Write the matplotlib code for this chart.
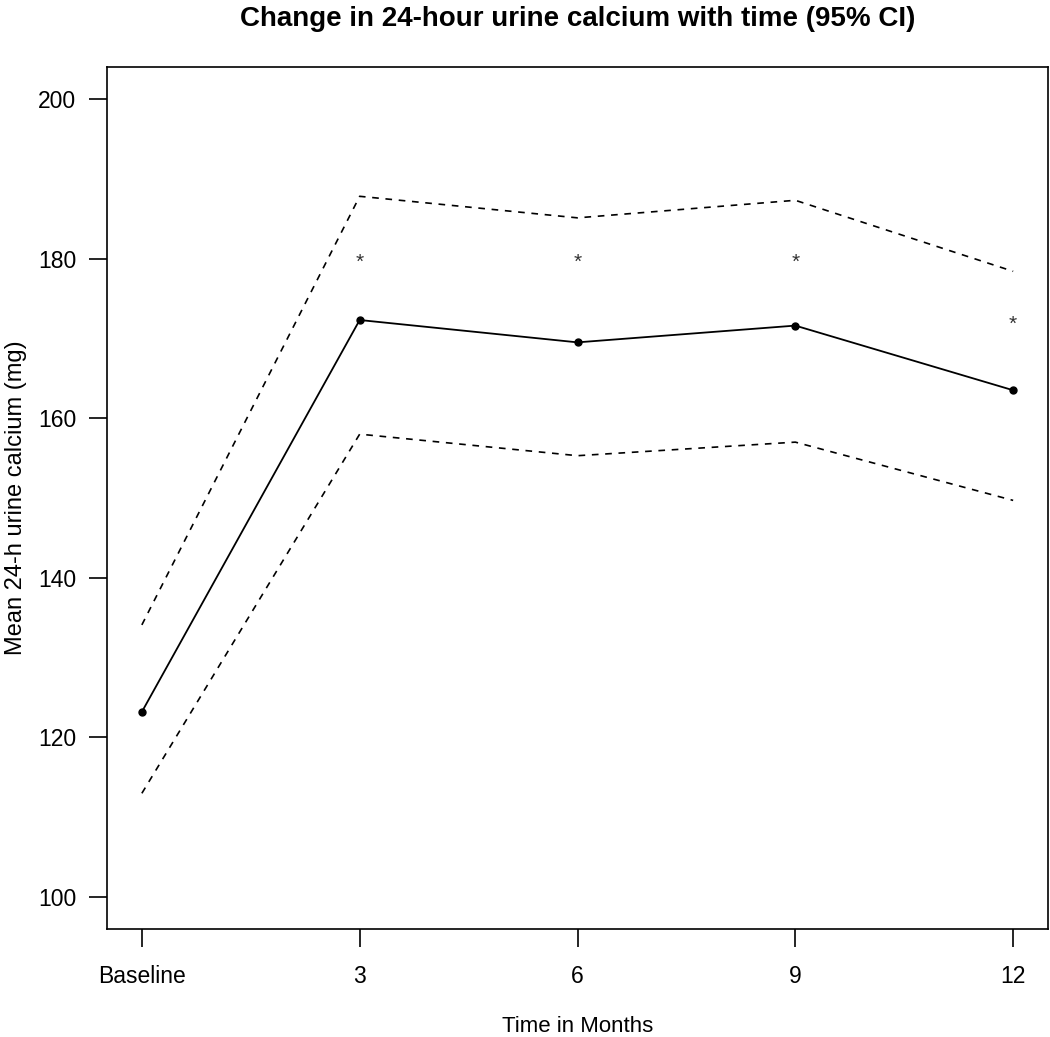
import matplotlib
matplotlib.use("Agg")
import matplotlib.pyplot as plt

plt.rcParams['font.family'] = ['Liberation Sans', 'DejaVu Sans']

categories = ["Baseline", "3", "6", "9", "12"]
mean_vals = [123.2, 172.3, 169.5, 171.6, 163.5]
upper_ci = [134.1, 187.8, 185.1, 187.3, 178.4]
lower_ci = [113.0, 158.0, 155.3, 157.0, 149.7]
star_y = [179.5, 179.5, 179.5, 171.7]
star_x = [2, 3, 4, 5]
yticks = [100, 120, 140, 160, 180, 200]

x = list(range(1, len(categories) + 1))

W, H = 1050, 1037
fig = plt.figure(figsize=(W/100, H/100), dpi=100)
ax = fig.add_axes([107/W, 1 - 929/H, (1048-107)/W, (929-67)/H])

ax.plot(x, mean_vals, color='black', lw=1.3, marker='o', markersize=5)
ax.plot(x, upper_ci, color='black', lw=1.2, ls=(0, (4, 4)))
ax.plot(x, lower_ci, color='black', lw=1.2, ls=(0, (4, 4)))
for sx, sy in zip(star_x, star_y):
    ax.text(sx, sy, "*", ha='center', va='center', fontsize=15, color='#333333')

ax.set_xlim(0.84, 5.16)
ax.set_ylim(96, 204)
ax.set_xticks(x)
ax.set_xticklabels(categories)
ax.set_yticks(yticks)
ax.tick_params(axis='both', labelsize=16.5, length=13, width=1.2, color='black')
ax.tick_params(axis='x', pad=13)
ax.tick_params(axis='y', pad=9)
for s in ax.spines.values():
    s.set_linewidth(1.2)

fig.text((107 + 1048) / 2 / W, 1 - 19/H,
         "Change in 24-hour urine calcium with time (95% CI)", fontsize=20,
         fontweight='bold', ha='center', va='center')
fig.text((107 + 1048) / 2 / W, 1 - 1026/H, "Time in Months", fontsize=16,
         ha='center', va='center')
ax.set_ylabel("Mean 24-h urine calcium (mg)", fontsize=17, labelpad=8)

fig.savefig("out.png", dpi=100)
